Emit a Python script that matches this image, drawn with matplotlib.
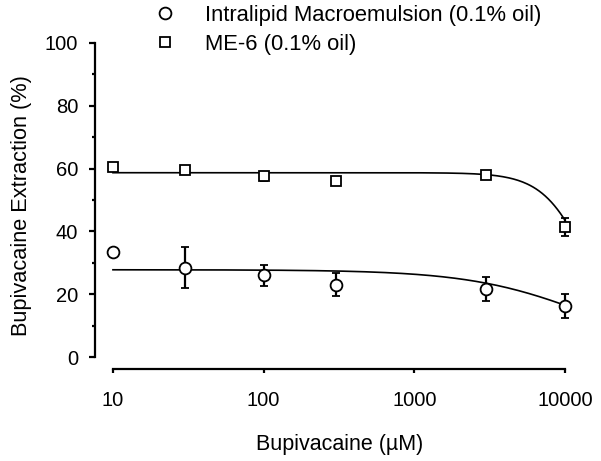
import numpy as np
import matplotlib
matplotlib.use("Agg")
import matplotlib.pyplot as plt
from matplotlib.ticker import FixedLocator, NullLocator

plt.rcParams['font.family'] = ['Liberation Sans', 'DejaVu Sans']

# data
conc = [10, 30, 100, 300, 3000, 10000]
intralipid = [33.3, 28.5, 26.0, 23.1, 21.6, 16.2]
intralipid_err = [0, 6.4, 3.4, 3.7, 3.8, 3.9]
me6 = [60.6, 59.7, 57.5, 56.2, 58.1, 41.4]
me6_err = [0, 0, 1.5, 0, 1.0, 2.9]

# fitted curve parameters (top, ic50, hill slope)
intralipid_fit = (27.8, 14100, 1.1)
me6_fit = (58.7, 14400, 2.9)

fig = plt.figure(figsize=(6.01, 4.61), dpi=100)
ax = fig.add_axes([95 / 601, 92 / 461, 490 / 601, 326 / 461])

xs = np.logspace(1, 4, 300)
for fit in (intralipid_fit, me6_fit):
    top, ic, h = fit
    ax.plot(xs, top / (1 + (xs / ic) ** h), color='black', lw=1.2, zorder=2)

ax.errorbar(conc, intralipid, yerr=intralipid_err, fmt='o', mfc='white', mec='black',
            ms=8.5, mew=1.3, ecolor='black', elinewidth=1.6, capsize=3, capthick=1.6,
            label='Intralipid Macroemulsion (0.1% oil)', zorder=3)
ax.errorbar(conc, me6, yerr=me6_err, fmt='s', mfc='white', mec='black',
            ms=7.5, mew=1.3, ecolor='black', elinewidth=1.6, capsize=3, capthick=1.6,
            label='ME-6 (0.1% oil)', zorder=3)

ax.set_xscale('log')
ax.set_xlim(7.6, 13575)
ax.set_ylim(-3.8, 100)

for s in ('top', 'right'):
    ax.spines[s].set_visible(False)
ax.spines['left'].set_bounds(0, 100)
ax.spines['bottom'].set_bounds(10, 10000)
ax.spines['left'].set_linewidth(1.6)
ax.spines['bottom'].set_linewidth(1.6)

ax.xaxis.set_major_locator(FixedLocator([10, 100, 1000, 10000]))
ax.xaxis.set_minor_locator(NullLocator())
ax.set_xticklabels(['10', '100', '1000', '10000'])
ax.set_yticks([0, 20, 40, 60, 80, 100])
ax.set_yticks([10, 30, 50, 70, 90], minor=True)
ax.tick_params(axis='x', which='major', length=3, width=1.6, pad=13, labelsize=14.5)
ax.tick_params(axis='y', which='major', length=4, width=1.6, pad=8, labelsize=14.5)
ax.tick_params(axis='y', which='minor', length=2.5, width=1.6)

ax.set_xlabel('Bupivacaine (\u00b5M)', fontsize=15.5, labelpad=17)
ax.set_ylabel('Bupivacaine Extraction (%)', fontsize=15.7, labelpad=9)

handles, labels = ax.get_legend_handles_labels()
handles = [h[0] for h in handles]
fig.legend(handles, labels, loc='upper left', bbox_to_anchor=(154 / 601, 0.99),
           frameon=False, fontsize=15.8, handlelength=1, handletextpad=1.32,
           labelspacing=0.39, borderpad=0, borderaxespad=0)

fig.savefig('out.png', dpi=100)
